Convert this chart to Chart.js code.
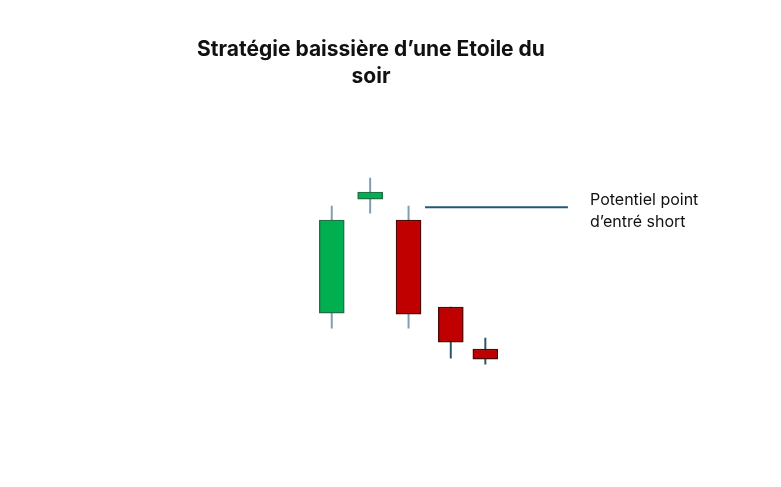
<!DOCTYPE html>
<html>
<head>
<meta charset="utf-8">
<script src="https://cdn.jsdelivr.net/npm/chart.js@4/dist/chart.umd.min.js"></script>
<style>
  html, body { margin: 0; padding: 0; background: #fff; }
  #wrap { position: relative; width: 781px; height: 487px; }
  #note { position: absolute; left: 590px; top: 189px; font: 16px Inter, "Open Sans", sans-serif; color: #111; line-height: 21.5px; }
</style>
</head>
<body>
<div id="wrap">
  <canvas id="chart" width="781" height="487"></canvas>
  <div id="note">Potentiel point<br>d’entré short</div>
</div>
<script>
// bougies : position, ouverture, haut, bas, cloture
const positions = [1, 2, 3, 4.1, 5];
const opens  = [87, 201, 180, 93, 51];
const highs  = [194, 222, 194, 93, 62];
const lows   = [72, 187, 72, 42, 36];
const closes = [180, 208, 86, 58, 41];
const entryLevel = 193;
const entryStart = 3.43, entryEnd = 7.15;

const titre = ['Stratégie baissière d’une Etoile du', 'soir'];

const bodies = positions.map((x, i) => ({x: x, y: [opens[i], closes[i]]}));
const wicks = positions.map((x, i) => ({x: x, y: [lows[i], highs[i]]}));
const up = opens.map((o, i) => closes[i] >= o);

new Chart(document.getElementById('chart'), {
  type: 'bar',
  data: {
    datasets: [
      {
        data: bodies,
        grouped: false,
        barThickness: 25,
        backgroundColor: up.map(u => u ? '#00B050' : '#C00000'),
        borderColor: up.map(u => u ? '#1f6e45' : '#4a0a0a'),
        borderWidth: 1.4,
        borderSkipped: false
      },
      {
        data: wicks,
        grouped: false,
        barThickness: 1.3,
        backgroundColor: ['#7f9db0', '#7f9db0', '#7f9db0', '#2b5566', '#2b5566'],
        borderWidth: 0
      },
      {
        type: 'line',
        data: [{x: entryStart, y: entryLevel}, {x: entryEnd, y: entryLevel}],
        borderColor: '#1f5a78',
        borderWidth: 2,
        pointRadius: 0
      }
    ]
  },
  options: {
    responsive: false,
    animation: false,
    layout: { padding: 0 },
    plugins: {
      legend: { display: false },
      tooltip: { enabled: false },
      title: {
        display: true,
        text: titre,
        align: 'center',
        color: '#111',
        font: { family: 'Inter', size: 21, weight: 'bold', lineHeight: 1.29 },
        padding: { top: 36.5, bottom: 0 },
        fullSize: true
      }
    },
    scales: {
      x: { type: 'linear', display: false, min: -7.64, max: 12.70, offset: false },
      y: { display: false, min: -87, max: 309.5 }
    }
  },
  plugins: [{
    id: 'shiftTitle',
    beforeDraw(chart) {
      // titre decale vers la gauche comme dans l'original
      const t = chart.titleBlock;
      if (t) { t.left = 0; t.right = 742; t.width = 742; }
    }
  }]
});
</script>
</body>
</html>
